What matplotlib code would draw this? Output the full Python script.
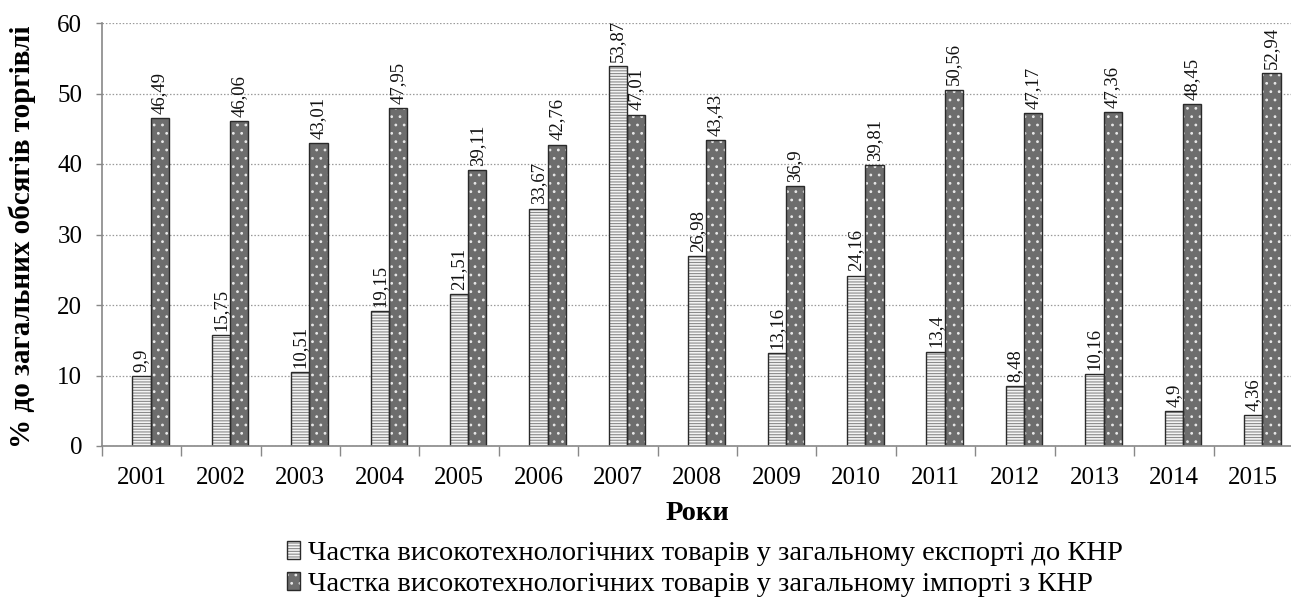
import matplotlib
matplotlib.use("Agg")
import matplotlib.pyplot as plt
import numpy as np
from matplotlib.patches import Patch

plt.rcParams['font.family'] = ['Liberation Serif', 'DejaVu Serif']
plt.rcParams['hatch.linewidth'] = 0.8

years = ["2001", "2002", "2003", "2004", "2005", "2006", "2007", "2008",
         "2009", "2010", "2011", "2012", "2013", "2014", "2015"]
export_share = [9.9, 15.75, 10.51, 19.15, 21.51, 33.67, 53.87, 26.98,
                13.16, 24.16, 13.4, 8.48, 10.16, 4.9, 4.36]
import_share = [46.49, 46.06, 43.01, 47.95, 39.11, 42.76, 47.01, 43.43,
                36.9, 39.81, 50.56, 47.17, 47.36, 48.45, 52.94]
series_names = ["Частка високотехнологічних товарів у загальному експорті до КНР",
                "Частка високотехнологічних товарів у загальному імпорті з КНР"]
y_label = "% до загальних обсягів торгівлі"
x_label = "Роки"

W, H = 1291, 606
fig = plt.figure(figsize=(W / 100, H / 100), dpi=100)
left_px, right_px, top_px, bot_px = 101.7, 1293, 23, 446
ax = fig.add_axes([left_px / W, 1 - bot_px / H, (right_px - left_px) / W, (bot_px - top_px) / H])

x = np.arange(len(years))
bw = 0.23
x_exp = x + 0.0
x_imp = x + bw

edge = "#2a2a2a"
ax.bar(x_exp, export_share, width=bw, color="#f4f4f4", edgecolor="#8a8a8a",
       hatch="------", linewidth=0, zorder=3)
ax.bar(x_exp, export_share, width=bw, fill=False, edgecolor=edge, linewidth=1.0, zorder=4)
ax.bar(x_imp, import_share, width=bw, color="#6d6d6d", edgecolor="#e8e8e8",
       hatch="..", linewidth=0, zorder=3)
ax.bar(x_imp, import_share, width=bw, fill=False, edgecolor=edge, linewidth=1.0, zorder=4)

def fmt(v):
    s = ("%.2f" % v).rstrip("0").rstrip(".")
    return s.replace(".", ",")

for xs, vals in ((x_exp, export_share), (x_imp, import_share)):
    for xi, v in zip(xs, vals):
        ax.text(xi, v + 0.6, fmt(v), rotation=90, ha="center", va="bottom",
                fontsize=13.5, color="#111111", zorder=5)

ax.set_xlim(-0.5, len(years) - 0.5)
ax.set_ylim(0, 60)
ax.set_yticks(np.arange(0, 61, 10))
ax.set_xticks(x)
ax.set_xticklabels(years, fontsize=18)
ax.set_xticks(np.arange(-0.5, len(years), 1.0), minor=True)
ax.tick_params(axis="x", which="major", length=0, pad=15)
ax.tick_params(axis="x", which="minor", length=7, color="#888888", width=1)
ax.tick_params(axis="y", labelsize=18, length=4, color="#888888", width=1, pad=10)
ax.yaxis.grid(True, linestyle=(0, (1.2, 1.5)), color="#9a9a9a", linewidth=0.9, zorder=0)
ax.set_axisbelow(True)
for s in ("top", "right"):
    ax.spines[s].set_visible(False)
for s in ("left", "bottom"):
    ax.spines[s].set_color("#888888")
    ax.spines[s].set_linewidth(1.2)
    ax.spines[s].set_zorder(6)

fig.text(22 / W, 1 - 237 / H, y_label, rotation=90, ha="center", va="center",
         fontsize=21, fontweight="bold")
fig.text(697 / W, 1 - 514 / H, x_label, ha="center", va="center",
         fontsize=20.5, fontweight="bold")

h1 = (Patch(facecolor="#f4f4f4", edgecolor="#8a8a8a", hatch="------", linewidth=0),
      Patch(fill=False, edgecolor=edge, linewidth=1.0))
h2 = (Patch(facecolor="#6d6d6d", edgecolor="#e8e8e8", hatch="..", linewidth=0),
      Patch(fill=False, edgecolor=edge, linewidth=1.0))
fig.legend([h1, h2], series_names, loc="center", bbox_to_anchor=(705 / W, 1 - 569 / H),
           frameon=False, fontsize=20.5, handlelength=0.45, handleheight=0.6,
           handletextpad=0.3, labelspacing=0.2, borderpad=0.2)

fig.savefig("out.png", dpi=100)
